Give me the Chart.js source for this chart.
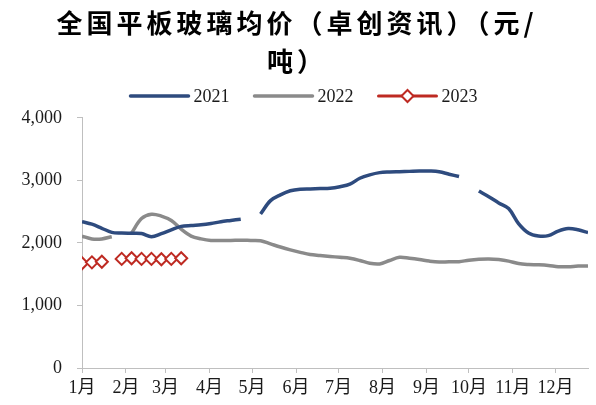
<!DOCTYPE html>
<html>
<head>
<meta charset="utf-8">
<script src="https://cdn.jsdelivr.net/npm/chart.js@4/dist/chart.umd.min.js"></script>
<style>
  html, body { margin: 0; padding: 0; background: #ffffff; }
  #c { display: block; }
</style>
</head>
<body>
<canvas id="c" width="596" height="405"></canvas>
<script>
// Month tick labels and the day-of-year each month starts on
const monthLabels = ['1月', '2月', '3月', '4月', '5月', '6月', '7月', '8月', '9月', '10月', '11月', '12月'];
const monthStartDays = [0, 31, 59, 90, 120, 151, 181, 212, 243, 273, 304, 334];

// Weekly observation dates (day of year)
const weekDays = Array.from({ length: 52 }, (_, k) => k * 7);

// Average flat glass price, yuan per tonne (null = no quote that week)
const price2021 = [2340, 2300, 2235, 2170, 2160, 2155, 2150, 2100, 2150, 2210, 2265, 2280, 2290,
  2310, 2340, 2360, 2380, null, 2464, 2677, 2770, 2835, 2860, 2865, 2870, 2875, 2900, 2940,
  3035, 3090, 3125, 3135, 3140, 3145, 3150, 3150, 3140, 3100, 3062, null, 2830, 2740, 2640,
  2550, 2310, 2160, 2112, 2117, 2190, 2230, 2210, 2165];
const price2022 = [2110, 2065, 2065, 2100, null, 2160, 2390, 2460, 2430, 2360, 2220, 2110, 2065,
  2040, 2040, 2040, 2045, 2040, 2035, 1985, 1935, 1890, 1850, 1815, 1800, 1785, 1770, 1755,
  1720, 1675, 1665, 1720, 1770, 1755, 1735, 1710, 1695, 1700, 1700, 1725, 1740, 1745, 1735,
  1710, 1670, 1655, 1650, 1640, 1620, 1620, 1630, 1632];
const price2023 = [1675, 1690, 1700, null, 1745, 1755, 1745, 1745, 1740, 1745, 1755];

const seriesNames = ['2021', '2022', '2023'];
const titleLines = ['全国平板玻璃均价（卓创资讯）（元/', '吨）'];

const toPoints = values => values.map((v, i) => ({ x: weekDays[i], y: v }));

const SERIF = '"Liberation Serif", "Times New Roman", "Noto Sans CJK SC", serif';

// Wider character spacing for the title block only
const titleSpacing = {
  id: 'titleSpacing',
  beforeDraw(chart, args, opts) {
    const tb = chart.titleBlock;
    if (!tb || tb._spaced) return;
    const draw = tb.draw.bind(tb);
    tb.draw = function (...a) {
      const ctx = this.ctx;
      ctx.save();
      ctx.letterSpacing = opts.spacing;
      draw(...a);
      ctx.restore();
    };
    tb._spaced = true;
  }
};

// Legend drawn as line samples (with the marker for the marker series)
const lineKey = {
  id: 'lineKey',
  afterDraw(chart, args, opts) {
    const ctx = chart.ctx;
    ctx.save();
    ctx.font = opts.font;
    const items = chart.data.datasets.map(ds => ({ ds, w: ctx.measureText(ds.label).width }));
    const total = items.reduce((s, it) => s + opts.lineLength + opts.gap + it.w, 0) + opts.spacing * (items.length - 1);
    let x = opts.centerX - total / 2;
    const y = opts.y;
    items.forEach(({ ds, w }) => {
      ctx.strokeStyle = ds.borderColor;
      ctx.lineWidth = ds.borderWidth;
      ctx.lineCap = 'round';
      ctx.beginPath();
      ctx.moveTo(x, y);
      ctx.lineTo(x + opts.lineLength, y);
      ctx.stroke();
      if (ds.pointRadius > 0) {
        const cx = x + opts.lineLength / 2, r = ds.pointRadius;
        ctx.fillStyle = ds.pointBackgroundColor;
        ctx.strokeStyle = ds.pointBorderColor;
        ctx.lineWidth = ds.pointBorderWidth;
        ctx.lineCap = 'butt';
        ctx.beginPath();
        ctx.moveTo(cx - r, y);
        ctx.lineTo(cx, y - r);
        ctx.lineTo(cx + r, y);
        ctx.lineTo(cx, y + r);
        ctx.closePath();
        ctx.fill();
        ctx.stroke();
      }
      ctx.fillStyle = opts.color;
      ctx.textAlign = 'left';
      ctx.textBaseline = 'middle';
      ctx.fillText(ds.label, x + opts.lineLength + opts.gap, y + 1);
      x += opts.lineLength + opts.gap + w + opts.spacing;
    });
    ctx.restore();
  }
};

new Chart(document.getElementById('c'), {
  type: 'line',
  data: {
    datasets: [
      {
        label: seriesNames[0],
        data: toPoints(price2021),
        borderColor: '#2E4B7E',
        borderWidth: 3.5,
        pointRadius: 0,
        tension: 0.35,
        spanGaps: false
      },
      {
        label: seriesNames[1],
        data: toPoints(price2022),
        borderColor: '#8A8A8A',
        borderWidth: 3.5,
        pointRadius: 0,
        tension: 0.35,
        spanGaps: false
      },
      {
        label: seriesNames[2],
        data: toPoints(price2023),
        borderColor: '#BE2A22',
        borderWidth: 3,
        pointStyle: 'rectRot',
        pointRadius: 6,
        pointBorderWidth: 2,
        pointBackgroundColor: '#ffffff',
        pointBorderColor: '#BE2A22',
        tension: 0.35,
        spanGaps: false
      }
    ]
  },
  options: {
    responsive: false,
    animation: false,
    locale: 'en-US',
    layout: { padding: { left: 0, right: 2, top: 0, bottom: 0 } },
    plugins: {
      legend: { display: false },
      tooltip: { enabled: false },
      title: {
        display: true,
        text: titleLines,
        color: '#000000',
        font: { family: '"Noto Sans CJK SC", sans-serif', size: 26, weight: 'bold', lineHeight: 1.46 },
        padding: { top: 4, bottom: 38 }
      },
      titleSpacing: { spacing: '4px' },
      lineKey: {
        font: '18px ' + SERIF,
        color: '#1a1a1a',
        lineLength: 58,
        gap: 5,
        spacing: 25,
        centerX: 304,
        y: 96
      }
    },
    scales: {
      x: {
        type: 'linear',
        min: 0,
        max: 357,
        afterBuildTicks: scale => { scale.ticks = monthStartDays.map(v => ({ value: v })); },
        afterFit: scale => { scale.height = 37; },
        ticks: {
          autoSkip: false,
          maxRotation: 0,
          padding: 4,
          color: '#1a1a1a',
          font: { family: SERIF, size: 18 },
          callback: (value, index) => monthLabels[index]
        },
        grid: { display: true, drawOnChartArea: false, drawTicks: true, tickLength: 5, color: '#BFBFBF' },
        border: { display: true, color: '#BFBFBF', width: 1 }
      },
      y: {
        min: 0,
        max: 4000,
        afterFit: scale => { scale.width = 82; },
        ticks: {
          stepSize: 1000,
          padding: 15,
          color: '#1a1a1a',
          font: { family: SERIF, size: 18 }
        },
        grid: { display: true, drawOnChartArea: false, drawTicks: true, tickLength: 5, color: '#BFBFBF' },
        border: { display: true, color: '#BFBFBF', width: 1 }
      }
    }
  },
  plugins: [titleSpacing, lineKey]
});
</script>
</body>
</html>
